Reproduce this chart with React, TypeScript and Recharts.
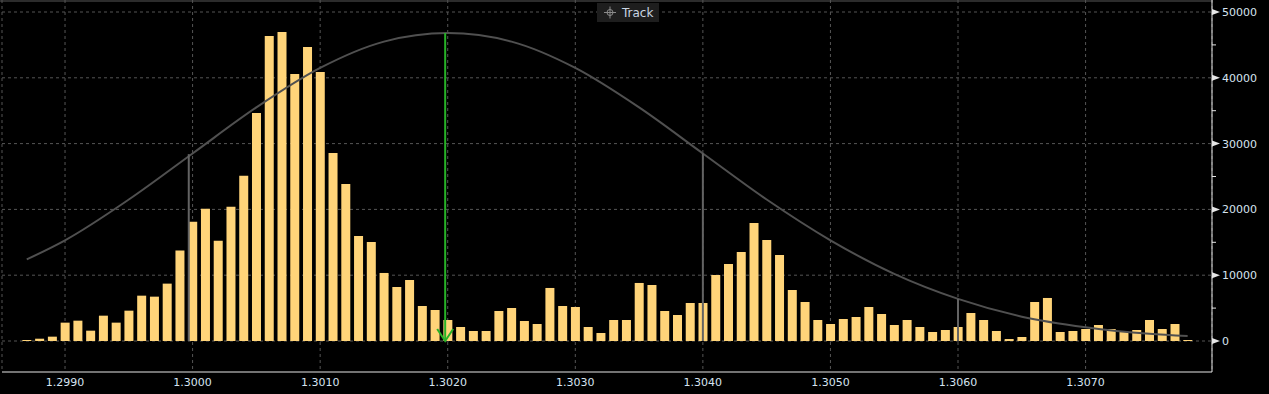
import { ComposedChart, Bar, Line, XAxis, YAxis, CartesianGrid, ReferenceLine } from "recharts";

// histogram bins, 0.0001 wide starting at 1.2987
const binStart = 1.2987;
const binStep = 0.0001;
const counts = [
  150, 350, 660, 2790, 3090, 1570, 3850, 2790, 4610, 6890, 6740, 8720, 13740,
  18140, 20110, 15250, 20420, 25130, 34660, 46360, 46970, 40580, 44690, 40890,
  28580, 23860, 15960, 15050, 10340, 8210, 9270, 5320, 4710, 3190, 2130, 1520,
  1520, 4560, 5020, 3040, 2580, 8060, 5320, 5170, 2130, 1220, 3190, 3190, 8820,
  8510, 4560, 3950, 5780, 5780, 10030, 11700, 13530, 17940, 15350, 13070, 7750,
  5930, 3190, 2580, 3340, 3650, 5170, 4100, 2430, 3190, 2130, 1370, 1670, 2130,
  4260, 3190, 1520, 300, 610, 5930, 6540, 1370, 1520, 1820, 2430, 1820, 1370,
  1670, 3190, 1820, 2580, 150,
];

// normal curve ("Track")
const curveX = [
  1.2987, 1.299, 1.2995, 1.3, 1.3005, 1.301, 1.3015, 1.302, 1.3025, 1.303,
  1.3035, 1.304, 1.3045, 1.305, 1.3055, 1.306, 1.3065, 1.307, 1.3075, 1.3078,
];
const curveY = [
  12400, 15300, 21500, 28500, 35500, 41500, 45500, 46800, 45500, 41500,
  35500, 28500, 21500, 15300, 10200, 6400, 3700, 2100, 1100, 750,
];

// vertical drop lines (±1σ, +2σ) and the mean arrow
const dropX = [1.29997, 1.304, 1.306];
const dropY = [28400, 28500, 6400];
const meanX = 1.30198;
const meanY = 46800;

const xTicks = [1.299, 1.3, 1.301, 1.302, 1.303, 1.304, 1.305, 1.306, 1.307];
const yTicks = [0, 5000, 10000, 15000, 20000, 25000, 30000, 35000, 40000, 45000, 50000];
const yMajor = [0, 10000, 20000, 30000, 40000, 50000];

const bars = counts.map((v, i) => ({ x: +(binStart + i * binStep).toFixed(4), v }));
const curve = curveX.map((x, i) => ({ x, c: curveY[i] }));

const font = "DejaVu Sans, sans-serif";
const labelColor = "#d6e3f0";
const axisColor = "#e6e6e6";

const YTick = (props: any) => {
  const { x, y, payload } = props;
  const v = payload.value;
  if (v % 10000 !== 0) {
    return <line x1={x} x2={x + 4} y1={y} y2={y} stroke={axisColor} />;
  }
  return (
    <g>
      <polygon points={`${x},${y - 3} ${x + 8},${y} ${x},${y + 3}`} fill={axisColor} />
      <text x={x + 10} y={y} dy="0.36em" fill={labelColor} fontSize={11} fontFamily={font}>
        {v}
      </text>
    </g>
  );
};

const Arrow = (props: any) => {
  const { x1, y1, x2, y2 } = props;
  const top = Math.min(y1, y2);
  const bot = Math.max(y1, y2);
  return (
    <g>
      <line x1={x1} x2={x2} y1={top} y2={bot} stroke="#27b227" strokeWidth={2} strokeDasharray="none" />
      <polyline
        points={`${x2 - 8},${bot - 12} ${x2},${bot} ${x2 + 8},${bot - 12}`}
        stroke="#27b227"
        strokeWidth={2}
        fill="none"
      />
    </g>
  );
};

export default function App() {
  return (
    <div style={{ position: "absolute", left: 0, top: 0, width: 1269, height: 394, background: "#000" }}>
      <div style={{ position: "absolute", left: 0, top: 0, width: 1213, height: 2, background: "#2c2c2c" }} />
      <ComposedChart
        width={1269}
        height={394}
        data={bars}
        margin={{ top: 0, right: 0, left: 2, bottom: 0 }}
      >
        <CartesianGrid stroke="#555" strokeDasharray="3 3" horizontalValues={yMajor} />
        <XAxis
          type="number"
          dataKey="x"
          domain={[1.298506, 1.307991]}
          allowDataOverflow
          ticks={xTicks}
          interval={0}
          height={22}
          tickLine={false}
          tickMargin={0}
          axisLine={{ stroke: axisColor }}
          tick={{ fill: labelColor, fontSize: 11, fontFamily: font }}
          tickFormatter={(v: number) => v.toFixed(4)}
        />
        <YAxis
          orientation="right"
          type="number"
          domain={[-4711, 51824]}
          allowDataOverflow
          ticks={yTicks}
          interval={0}
          width={57}
          tickLine={false}
          tickSize={0}
          tickMargin={0}
          axisLine={{ stroke: axisColor }}
          tick={<YTick />}
        />
        <Bar dataKey="v" fill="#FFD479" barSize={9} isAnimationActive={false} />
        <Line
          data={curve}
          dataKey="c"
          type="monotone"
          stroke="#505050"
          strokeWidth={2}
          dot={false}
          activeDot={false}
          isAnimationActive={false}
        />
        {dropX.map((x, i) => (
          <ReferenceLine
            key={i}
            segment={[{ x, y: 0 }, { x, y: dropY[i] }]}
            stroke="#636363"
            strokeWidth={2}
          />
        ))}
        <ReferenceLine segment={[{ x: meanX, y: meanY }, { x: meanX, y: 0 }]} shape={<Arrow />} />
      </ComposedChart>
      <div
        style={{
          position: "absolute",
          left: 597,
          top: 3,
          width: 62,
          height: 19,
          background: "#1e1e1e",
          display: "flex",
          alignItems: "center",
          fontFamily: font,
          fontSize: 12,
          color: "#c9d5e2",
        }}
      >
        <svg width={20} height={19} style={{ marginLeft: 4 }}>
          <g stroke="#8a8a8a" strokeWidth={1} fill="none">
            <circle cx={9} cy={9.5} r={3} />
            <line x1={3} x2={15} y1={9.5} y2={9.5} />
            <line x1={9} x2={9} y1={3.5} y2={15.5} />
          </g>
        </svg>
        <span style={{ marginLeft: 1 }}>Track</span>
      </div>
    </div>
  );
}
